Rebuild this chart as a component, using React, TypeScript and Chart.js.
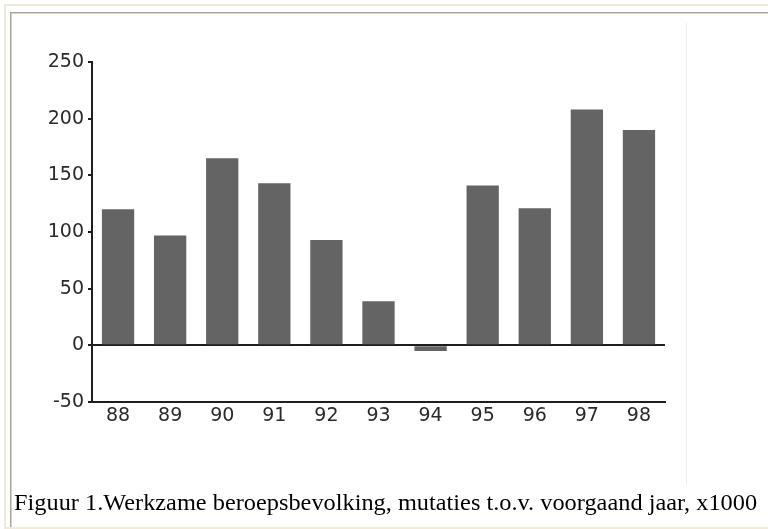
import React, { useEffect, useRef } from "react";
import { Chart, registerables } from "chart.js";

Chart.register(...registerables);

const years = ["88", "89", "90", "91", "92", "93", "94", "95", "96", "97", "98"];
const mutaties = [120, 97, 165, 143, 93, 39, -5, 141, 121, 208, 190];
const yMin = -50;
const yMax = 250;
const yStep = 50;
const caption = "Figuur 1.Werkzame beroepsbevolking, mutaties t.o.v. voorgaand jaar, x1000";

const tickFont = { family: "'DejaVu Sans', 'Liberation Sans', Arial, sans-serif", size: 19 };

export default function App() {
  const ref = useRef<HTMLCanvasElement | null>(null);

  useEffect(() => {
    if (!ref.current) return;
    const chart = new Chart(ref.current, {
      type: "bar",
      data: {
        labels: years,
        datasets: [
          {
            data: mutaties,
            backgroundColor: "#646464",
            borderWidth: 0,
            categoryPercentage: 1,
            barPercentage: 0.62,
          },
        ],
      },
      options: {
        animation: false,
        responsive: false,
        devicePixelRatio: 1,
        layout: { padding: { left: 0, right: 103, top: 62, bottom: 97 } },
        plugins: { legend: { display: false }, tooltip: { enabled: false }, title: { display: false } },
        scales: {
          x: {
            grid: { display: false, drawTicks: false, tickLength: 0 },
            border: { display: true, color: "#1e1e1e", width: 2 },
            ticks: {
              color: "#2a2a2a",
              padding: 3,
              font: tickFont,
              maxRotation: 0,
            },
            afterFit: (s: any) => {
              s.height = 30;
            },
          },
          y: {
            min: yMin,
            max: yMax,
            z: 1,
            border: { display: true, color: "#1e1e1e", width: 2 },
            grid: {
              color: (ctx: any) => (ctx.tick && ctx.tick.value === 0 ? "#1e1e1e" : "rgba(0,0,0,0)"),
              lineWidth: 2,
              tickColor: "#1e1e1e",
              tickLength: 4,
              drawTicks: true,
            },
            ticks: {
              stepSize: yStep,
              color: "#2a2a2a",
              padding: 4,
              font: tickFont,
            },
            afterFit: (s: any) => {
              s.width = 92;
            },
          },
        },
      },
    });
    return () => chart.destroy();
  }, []);

  return (
    <div
      style={{
        position: "absolute",
        left: 0,
        top: 0,
        width: 768,
        height: 529,
        overflow: "hidden",
        background: "#fff",
      }}
    >
      <div style={{ position: "absolute", left: 4, top: 4, width: 800, height: 2, background: "#efebd8" }} />
      <div style={{ position: "absolute", left: 4, top: 4, width: 2, height: 540, background: "#efebd8" }} />
      <div style={{ position: "absolute", left: 4, top: 527, width: 800, height: 2, background: "#efebd8" }} />
      <div style={{ position: "absolute", left: 10, top: 12, width: 800, height: 1, background: "#a8a69a" }} />
      <div style={{ position: "absolute", left: 10, top: 13, width: 800, height: 1, background: "#d4d2c8" }} />
      <div style={{ position: "absolute", left: 10, top: 12, width: 1, height: 515, background: "#a8a69a" }} />
      <div style={{ position: "absolute", left: 11, top: 13, width: 1, height: 514, background: "#d4d2c8" }} />
      <div style={{ position: "absolute", left: 686, top: 23, width: 1, height: 462, background: "#ececec" }} />
      <canvas ref={ref} width={768} height={529} style={{ position: "absolute", left: 0, top: 0, width: 768, height: 529 }} />
      <div
        style={{
          position: "absolute",
          left: 14,
          top: 489,
          whiteSpace: "nowrap",
          fontFamily: "'Liberation Serif', 'Times New Roman', serif",
          fontSize: 23,
          color: "#000",
          lineHeight: "28px",
          transform: "scaleX(1.058)",
          transformOrigin: "0 0",
        }}
      >
        {caption}
      </div>
    </div>
  );
}
